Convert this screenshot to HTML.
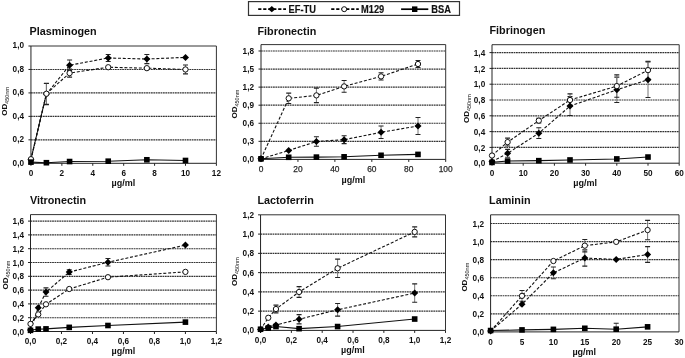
<!DOCTYPE html>
<html><head><meta charset="utf-8"><title>Binding curves</title><style>
html,body{margin:0;padding:0;background:#fff;}
body{width:685px;height:358px;overflow:hidden;}
svg{display:block;}
text{font-family:"Liberation Sans", sans-serif;fill:#111;}
.t{font-size:10.8px;font-weight:bold;}
.yl{font-size:8.2px;font-weight:bold;text-anchor:end;}
.xl{font-size:8.2px;font-weight:bold;text-anchor:middle;}
.xr{font-size:8.4px;font-weight:normal;text-anchor:middle;fill:#2a2a2a;stroke:#2a2a2a;stroke-width:0.25px;}
.od{font-size:8px;font-weight:bold;}
.sub{font-size:5.5px;font-weight:normal;}
.ug{font-size:9px;font-weight:bold;}
.lg{font-size:9.3px;font-weight:bold;stroke:#111;stroke-width:0.15px;}
.g{stroke:#333;stroke-width:1.15;stroke-dasharray:1.8,0.6;fill:none;}
.b{stroke:#333;stroke-width:1;fill:none;}
.a{stroke:#222;stroke-width:1;fill:none;}
.e{stroke:#777;stroke-width:1;fill:none;}
.ec{stroke:#222;stroke-width:1.1;fill:none;}
.d{stroke:#111;stroke-width:1.1;stroke-dasharray:3,1.8;fill:none;}
.s{stroke:#111;stroke-width:1.1;fill:none;}
.dm{fill:#000;}
.ci{fill:#fff;stroke:#111;stroke-width:1;}
.sq{fill:#000;}
</style></head>
<body><svg width="685" height="358" viewBox="0 0 685 358">
<g>
<rect width="685" height="358" fill="#fff"/>
<g>
<text x="29.5" y="34.6" class="t">Plasminogen</text>
<line x1="30.95" y1="139.84" x2="216.4" y2="139.84" class="g"/>
<line x1="30.95" y1="116.38" x2="216.4" y2="116.38" class="g"/>
<line x1="30.95" y1="92.92" x2="216.4" y2="92.92" class="g"/>
<line x1="30.95" y1="69.46" x2="216.4" y2="69.46" class="g"/>
<polyline points="30.95,46 216.4,46 216.4,163.3" class="b"/>
<line x1="28.45" y1="163.3" x2="30.95" y2="163.3" class="a"/>
<text x="24" y="165.7" class="yl">0,0</text>
<line x1="28.45" y1="139.84" x2="30.95" y2="139.84" class="a"/>
<text x="24" y="142.24" class="yl">0,2</text>
<line x1="28.45" y1="116.38" x2="30.95" y2="116.38" class="a"/>
<text x="24" y="118.78" class="yl">0,4</text>
<line x1="28.45" y1="92.92" x2="30.95" y2="92.92" class="a"/>
<text x="24" y="95.32" class="yl">0,6</text>
<line x1="28.45" y1="69.46" x2="30.95" y2="69.46" class="a"/>
<text x="24" y="71.86" class="yl">0,8</text>
<line x1="28.45" y1="46" x2="30.95" y2="46" class="a"/>
<text x="24" y="48.4" class="yl">1,0</text>
<line x1="30.95" y1="163.3" x2="30.95" y2="165.8" class="a"/>
<text x="30.95" y="175.8" class="xl">0</text>
<line x1="61.86" y1="163.3" x2="61.86" y2="165.8" class="a"/>
<text x="61.86" y="175.8" class="xl">2</text>
<line x1="92.77" y1="163.3" x2="92.77" y2="165.8" class="a"/>
<text x="92.77" y="175.8" class="xl">4</text>
<line x1="123.68" y1="163.3" x2="123.68" y2="165.8" class="a"/>
<text x="123.68" y="175.8" class="xl">6</text>
<line x1="154.58" y1="163.3" x2="154.58" y2="165.8" class="a"/>
<text x="154.58" y="175.8" class="xl">8</text>
<line x1="185.49" y1="163.3" x2="185.49" y2="165.8" class="a"/>
<text x="185.49" y="175.8" class="xl">10</text>
<line x1="216.4" y1="163.3" x2="216.4" y2="165.8" class="a"/>
<text x="216.4" y="175.8" class="xl">12</text>
<line x1="30.95" y1="46" x2="30.95" y2="163.3" class="a"/>
<line x1="30.95" y1="163.3" x2="216.4" y2="163.3" class="a"/>
<text transform="translate(7,115.8) rotate(-90)" class="od">OD<tspan class="sub" dy="1.8">450nm</tspan></text>
<text x="111.6" y="186.3" class="ug">&#181;g/ml</text>
<clipPath id="c0"><rect x="20.95" y="26" width="205.45" height="137.3"/></clipPath>
<g clip-path="url(#c0)">
<path d="M46.4 83.54V104.65" class="e"/>
<path d="M43.9 83.54h5M43.9 104.65h5" class="ec"/>
<path d="M69.59 59.96V70.52" class="e"/>
<path d="M67.09 59.96h5M67.09 70.52h5" class="ec"/>
<path d="M108.22 54.45V61.48" class="e"/>
<path d="M105.72 54.45h5M105.72 61.48h5" class="ec"/>
<path d="M146.86 54.45V63.6" class="e"/>
<path d="M144.36 54.45h5M144.36 63.6h5" class="ec"/>
<path d="M46.4 83.18V104.3" class="e"/>
<path d="M43.9 83.18h5M43.9 104.3h5" class="ec"/>
<path d="M69.59 69.11V77.08" class="e"/>
<path d="M67.09 69.11h5M67.09 77.08h5" class="ec"/>
<path d="M185.49 65V73.92" class="e"/>
<path d="M182.99 65h5M182.99 73.92h5" class="ec"/>
</g>
<polyline points="30.95,159.78 46.4,94.09 69.59,65.24 108.22,57.96 146.86,59.02 185.49,57.38" class="d"/>
<polyline points="30.95,159.19 46.4,93.74 69.59,73.1 108.22,67.23 146.86,68.17 185.49,69.46" class="d"/>
<polyline points="30.95,162.13 46.4,162.71 69.59,161.54 108.22,161.19 146.86,159.78 185.49,160.48" class="s"/>
<line x1="30.95" y1="159.19" x2="46.4" y2="93.74" style="stroke:#111;stroke-width:1px;fill:none"/>
<path d="M30.95 156.28l3.5 3.5l-3.5 3.5l-3.5 -3.5z" class="dm"/>
<path d="M46.4 90.59l3.5 3.5l-3.5 3.5l-3.5 -3.5z" class="dm"/>
<path d="M69.59 61.74l3.5 3.5l-3.5 3.5l-3.5 -3.5z" class="dm"/>
<path d="M108.22 54.46l3.5 3.5l-3.5 3.5l-3.5 -3.5z" class="dm"/>
<path d="M146.86 55.52l3.5 3.5l-3.5 3.5l-3.5 -3.5z" class="dm"/>
<path d="M185.49 53.88l3.5 3.5l-3.5 3.5l-3.5 -3.5z" class="dm"/>
<circle cx="30.95" cy="159.19" r="2.65" class="ci"/>
<circle cx="46.4" cy="93.74" r="2.65" class="ci"/>
<circle cx="69.59" cy="73.1" r="2.65" class="ci"/>
<circle cx="108.22" cy="67.23" r="2.65" class="ci"/>
<circle cx="146.86" cy="68.17" r="2.65" class="ci"/>
<circle cx="185.49" cy="69.46" r="2.65" class="ci"/>
<rect x="28.15" y="159.33" width="5.6" height="5.6" class="sq"/>
<rect x="43.6" y="159.91" width="5.6" height="5.6" class="sq"/>
<rect x="66.79" y="158.74" width="5.6" height="5.6" class="sq"/>
<rect x="105.42" y="158.39" width="5.6" height="5.6" class="sq"/>
<rect x="144.06" y="156.98" width="5.6" height="5.6" class="sq"/>
<rect x="182.69" y="157.68" width="5.6" height="5.6" class="sq"/>
</g>
<g>
<text x="257.5" y="34.5" class="t">Fibronectin</text>
<line x1="261" y1="141.33" x2="445.7" y2="141.33" class="g"/>
<line x1="261" y1="123.26" x2="445.7" y2="123.26" class="g"/>
<line x1="261" y1="105.19" x2="445.7" y2="105.19" class="g"/>
<line x1="261" y1="87.12" x2="445.7" y2="87.12" class="g"/>
<line x1="261" y1="69.06" x2="445.7" y2="69.06" class="g"/>
<line x1="261" y1="50.99" x2="445.7" y2="50.99" class="g"/>
<polyline points="261,44.6 445.7,44.6 445.7,159.4" class="b"/>
<line x1="258.5" y1="159.4" x2="261" y2="159.4" class="a"/>
<text x="254" y="162.3" class="yl">0,0</text>
<line x1="258.5" y1="141.33" x2="261" y2="141.33" class="a"/>
<text x="254" y="144.23" class="yl">0,3</text>
<line x1="258.5" y1="123.26" x2="261" y2="123.26" class="a"/>
<text x="254" y="126.16" class="yl">0,6</text>
<line x1="258.5" y1="105.19" x2="261" y2="105.19" class="a"/>
<text x="254" y="108.09" class="yl">0,9</text>
<line x1="258.5" y1="87.12" x2="261" y2="87.12" class="a"/>
<text x="254" y="90.02" class="yl">1,2</text>
<line x1="258.5" y1="69.06" x2="261" y2="69.06" class="a"/>
<text x="254" y="71.96" class="yl">1,5</text>
<line x1="258.5" y1="50.99" x2="261" y2="50.99" class="a"/>
<text x="254" y="53.89" class="yl">1,8</text>
<line x1="261" y1="159.4" x2="261" y2="161.9" class="a"/>
<text x="261" y="172" class="xr">0</text>
<line x1="297.94" y1="159.4" x2="297.94" y2="161.9" class="a"/>
<text x="297.94" y="172" class="xr">20</text>
<line x1="334.88" y1="159.4" x2="334.88" y2="161.9" class="a"/>
<text x="334.88" y="172" class="xr">40</text>
<line x1="371.82" y1="159.4" x2="371.82" y2="161.9" class="a"/>
<text x="371.82" y="172" class="xr">60</text>
<line x1="408.76" y1="159.4" x2="408.76" y2="161.9" class="a"/>
<text x="408.76" y="172" class="xr">80</text>
<line x1="445.7" y1="159.4" x2="445.7" y2="161.9" class="a"/>
<text x="445.7" y="172" class="xr">100</text>
<line x1="261" y1="44.6" x2="261" y2="159.4" class="a"/>
<line x1="261" y1="159.4" x2="445.7" y2="159.4" class="a"/>
<text transform="translate(237.3,118.5) rotate(-90)" class="od">OD<tspan class="sub" dy="1.8">450nm</tspan></text>
<text x="341.6" y="182.6" class="ug">&#181;g/ml</text>
<clipPath id="c1"><rect x="251" y="24.6" width="204.7" height="134.8"/></clipPath>
<g clip-path="url(#c1)">
<path d="M316.41 136.81V146.21" class="e"/>
<path d="M313.91 136.81h5M313.91 146.21h5" class="ec"/>
<path d="M344.12 135.79V143.62" class="e"/>
<path d="M341.62 135.79h5M341.62 143.62h5" class="ec"/>
<path d="M381.06 126.03V138.56" class="e"/>
<path d="M378.56 126.03h5M378.56 138.56h5" class="ec"/>
<path d="M418 117.48V134.46" class="e"/>
<path d="M415.5 117.48h5M415.5 134.46h5" class="ec"/>
<path d="M288.7 93.15V103.51" class="e"/>
<path d="M286.2 93.15h5M286.2 103.51h5" class="ec"/>
<path d="M316.41 88.09V102.66" class="e"/>
<path d="M313.91 88.09h5M313.91 102.66h5" class="ec"/>
<path d="M344.12 80.5V92.3" class="e"/>
<path d="M341.62 80.5h5M341.62 92.3h5" class="ec"/>
<path d="M381.06 72.79V80.02" class="e"/>
<path d="M378.56 72.79h5M378.56 80.02h5" class="ec"/>
<path d="M418 60.5V67.49" class="e"/>
<path d="M415.5 60.5h5M415.5 67.49h5" class="ec"/>
</g>
<polyline points="261,158.8 288.7,150.49 316.41,141.51 344.12,139.7 381.06,132.3 418,125.97" class="d"/>
<polyline points="261,158.8 288.7,98.33 316.41,95.38 344.12,86.4 381.06,76.4 418,64" class="d"/>
<polyline points="261,158.8 288.7,157.29 316.41,157.11 344.12,156.81 381.06,155.3 418,154.4" class="s"/>
<path d="M261 155.3l3.5 3.5l-3.5 3.5l-3.5 -3.5z" class="dm"/>
<path d="M288.7 146.99l3.5 3.5l-3.5 3.5l-3.5 -3.5z" class="dm"/>
<path d="M316.41 138.01l3.5 3.5l-3.5 3.5l-3.5 -3.5z" class="dm"/>
<path d="M344.12 136.2l3.5 3.5l-3.5 3.5l-3.5 -3.5z" class="dm"/>
<path d="M381.06 128.8l3.5 3.5l-3.5 3.5l-3.5 -3.5z" class="dm"/>
<path d="M418 122.47l3.5 3.5l-3.5 3.5l-3.5 -3.5z" class="dm"/>
<circle cx="261" cy="158.8" r="2.65" class="ci"/>
<circle cx="288.7" cy="98.33" r="2.65" class="ci"/>
<circle cx="316.41" cy="95.38" r="2.65" class="ci"/>
<circle cx="344.12" cy="86.4" r="2.65" class="ci"/>
<circle cx="381.06" cy="76.4" r="2.65" class="ci"/>
<circle cx="418" cy="64" r="2.65" class="ci"/>
<rect x="258.2" y="156" width="5.6" height="5.6" class="sq"/>
<rect x="285.9" y="154.49" width="5.6" height="5.6" class="sq"/>
<rect x="313.61" y="154.31" width="5.6" height="5.6" class="sq"/>
<rect x="341.31" y="154.01" width="5.6" height="5.6" class="sq"/>
<rect x="378.25" y="152.5" width="5.6" height="5.6" class="sq"/>
<rect x="415.19" y="151.6" width="5.6" height="5.6" class="sq"/>
</g>
<g>
<text x="489.5" y="34.2" class="t">Fibrinogen</text>
<line x1="492" y1="147.4" x2="679.2" y2="147.4" class="g"/>
<line x1="492" y1="131.6" x2="679.2" y2="131.6" class="g"/>
<line x1="492" y1="115.8" x2="679.2" y2="115.8" class="g"/>
<line x1="492" y1="100" x2="679.2" y2="100" class="g"/>
<line x1="492" y1="84.2" x2="679.2" y2="84.2" class="g"/>
<line x1="492" y1="68.4" x2="679.2" y2="68.4" class="g"/>
<line x1="492" y1="52.6" x2="679.2" y2="52.6" class="g"/>
<polyline points="492,44.7 679.2,44.7 679.2,163.2" class="b"/>
<line x1="489.5" y1="163.2" x2="492" y2="163.2" class="a"/>
<text x="485.2" y="166.4" class="yl">0,0</text>
<line x1="489.5" y1="147.4" x2="492" y2="147.4" class="a"/>
<text x="485.2" y="150.6" class="yl">0,2</text>
<line x1="489.5" y1="131.6" x2="492" y2="131.6" class="a"/>
<text x="485.2" y="134.8" class="yl">0,4</text>
<line x1="489.5" y1="115.8" x2="492" y2="115.8" class="a"/>
<text x="485.2" y="119" class="yl">0,6</text>
<line x1="489.5" y1="100" x2="492" y2="100" class="a"/>
<text x="485.2" y="103.2" class="yl">0,8</text>
<line x1="489.5" y1="84.2" x2="492" y2="84.2" class="a"/>
<text x="485.2" y="87.4" class="yl">1,0</text>
<line x1="489.5" y1="68.4" x2="492" y2="68.4" class="a"/>
<text x="485.2" y="71.6" class="yl">1,2</text>
<line x1="489.5" y1="52.6" x2="492" y2="52.6" class="a"/>
<text x="485.2" y="55.8" class="yl">1,4</text>
<line x1="492" y1="163.2" x2="492" y2="165.7" class="a"/>
<text x="492" y="176.3" class="xl">0</text>
<line x1="523.2" y1="163.2" x2="523.2" y2="165.7" class="a"/>
<text x="523.2" y="176.3" class="xl">10</text>
<line x1="554.4" y1="163.2" x2="554.4" y2="165.7" class="a"/>
<text x="554.4" y="176.3" class="xl">20</text>
<line x1="585.6" y1="163.2" x2="585.6" y2="165.7" class="a"/>
<text x="585.6" y="176.3" class="xl">30</text>
<line x1="616.8" y1="163.2" x2="616.8" y2="165.7" class="a"/>
<text x="616.8" y="176.3" class="xl">40</text>
<line x1="648" y1="163.2" x2="648" y2="165.7" class="a"/>
<text x="648" y="176.3" class="xl">50</text>
<line x1="679.2" y1="163.2" x2="679.2" y2="165.7" class="a"/>
<text x="679.2" y="176.3" class="xl">60</text>
<line x1="492" y1="44.7" x2="492" y2="163.2" class="a"/>
<line x1="492" y1="163.2" x2="679.2" y2="163.2" class="a"/>
<text transform="translate(469.1,123) rotate(-90)" class="od">OD<tspan class="sub" dy="1.8">450nm</tspan></text>
<text x="573.3" y="186.4" class="ug">&#181;g/ml</text>
<clipPath id="c2"><rect x="482" y="24.7" width="207.2" height="138.5"/></clipPath>
<g clip-path="url(#c2)">
<path d="M507.6 149.38V157.27" class="e"/>
<path d="M505.1 149.38h5M505.1 157.27h5" class="ec"/>
<path d="M538.8 127.81V138.55" class="e"/>
<path d="M536.3 127.81h5M536.3 138.55h5" class="ec"/>
<path d="M570 96.6V115.56" class="e"/>
<path d="M567.5 96.6h5M567.5 115.56h5" class="ec"/>
<path d="M616.8 77.17V102.45" class="e"/>
<path d="M614.3 77.17h5M614.3 102.45h5" class="ec"/>
<path d="M648 61.92V97.47" class="e"/>
<path d="M645.5 61.92h5M645.5 97.47h5" class="ec"/>
<path d="M507.6 138.16V146.06" class="e"/>
<path d="M505.1 138.16h5M505.1 146.06h5" class="ec"/>
<path d="M538.8 118.25V122.99" class="e"/>
<path d="M536.3 118.25h5M536.3 122.99h5" class="ec"/>
<path d="M570 93.84V106.16" class="e"/>
<path d="M567.5 93.84h5M567.5 106.16h5" class="ec"/>
<path d="M616.8 74.88V97.31" class="e"/>
<path d="M614.3 74.88h5M614.3 97.31h5" class="ec"/>
<path d="M648 61.21V79.06" class="e"/>
<path d="M645.5 61.21h5M645.5 79.06h5" class="ec"/>
</g>
<polyline points="492,161.62 507.6,153.32 538.8,133.18 570,106.08 616.8,89.81 648,79.7" class="d"/>
<polyline points="492,155.54 507.6,142.11 538.8,120.62 570,100 616.8,86.1 648,70.14" class="d"/>
<polyline points="492,162.41 507.6,161.07 538.8,160.67 570,159.96 616.8,158.93 648,157.04" class="s"/>
<path d="M492 158.12l3.5 3.5l-3.5 3.5l-3.5 -3.5z" class="dm"/>
<path d="M507.6 149.82l3.5 3.5l-3.5 3.5l-3.5 -3.5z" class="dm"/>
<path d="M538.8 129.68l3.5 3.5l-3.5 3.5l-3.5 -3.5z" class="dm"/>
<path d="M570 102.58l3.5 3.5l-3.5 3.5l-3.5 -3.5z" class="dm"/>
<path d="M616.8 86.31l3.5 3.5l-3.5 3.5l-3.5 -3.5z" class="dm"/>
<path d="M648 76.2l3.5 3.5l-3.5 3.5l-3.5 -3.5z" class="dm"/>
<circle cx="492" cy="155.54" r="2.65" class="ci"/>
<circle cx="507.6" cy="142.11" r="2.65" class="ci"/>
<circle cx="538.8" cy="120.62" r="2.65" class="ci"/>
<circle cx="570" cy="100" r="2.65" class="ci"/>
<circle cx="616.8" cy="86.1" r="2.65" class="ci"/>
<circle cx="648" cy="70.14" r="2.65" class="ci"/>
<rect x="489.2" y="159.61" width="5.6" height="5.6" class="sq"/>
<rect x="504.8" y="158.27" width="5.6" height="5.6" class="sq"/>
<rect x="536" y="157.87" width="5.6" height="5.6" class="sq"/>
<rect x="567.2" y="157.16" width="5.6" height="5.6" class="sq"/>
<rect x="614" y="156.13" width="5.6" height="5.6" class="sq"/>
<rect x="645.2" y="154.24" width="5.6" height="5.6" class="sq"/>
</g>
<g>
<text x="29.9" y="203.9" class="t">Vitronectin</text>
<line x1="30.5" y1="317.7" x2="216.4" y2="317.7" class="g"/>
<line x1="30.5" y1="303.9" x2="216.4" y2="303.9" class="g"/>
<line x1="30.5" y1="290.1" x2="216.4" y2="290.1" class="g"/>
<line x1="30.5" y1="276.3" x2="216.4" y2="276.3" class="g"/>
<line x1="30.5" y1="262.5" x2="216.4" y2="262.5" class="g"/>
<line x1="30.5" y1="248.7" x2="216.4" y2="248.7" class="g"/>
<line x1="30.5" y1="234.9" x2="216.4" y2="234.9" class="g"/>
<line x1="30.5" y1="221.1" x2="216.4" y2="221.1" class="g"/>
<polyline points="30.5,214.6 216.4,214.6 216.4,331.5" class="b"/>
<line x1="28" y1="331.5" x2="30.5" y2="331.5" class="a"/>
<text x="24" y="334.6" class="yl">0,0</text>
<line x1="28" y1="317.7" x2="30.5" y2="317.7" class="a"/>
<text x="24" y="320.8" class="yl">0,2</text>
<line x1="28" y1="303.9" x2="30.5" y2="303.9" class="a"/>
<text x="24" y="307" class="yl">0,4</text>
<line x1="28" y1="290.1" x2="30.5" y2="290.1" class="a"/>
<text x="24" y="293.2" class="yl">0,6</text>
<line x1="28" y1="276.3" x2="30.5" y2="276.3" class="a"/>
<text x="24" y="279.4" class="yl">0,8</text>
<line x1="28" y1="262.5" x2="30.5" y2="262.5" class="a"/>
<text x="24" y="265.6" class="yl">1,0</text>
<line x1="28" y1="248.7" x2="30.5" y2="248.7" class="a"/>
<text x="24" y="251.8" class="yl">1,2</text>
<line x1="28" y1="234.9" x2="30.5" y2="234.9" class="a"/>
<text x="24" y="238" class="yl">1,4</text>
<line x1="28" y1="221.1" x2="30.5" y2="221.1" class="a"/>
<text x="24" y="224.2" class="yl">1,6</text>
<line x1="30.5" y1="331.5" x2="30.5" y2="334" class="a"/>
<text x="30.5" y="344.2" class="xl">0,0</text>
<line x1="61.48" y1="331.5" x2="61.48" y2="334" class="a"/>
<text x="61.48" y="344.2" class="xl">0,2</text>
<line x1="92.47" y1="331.5" x2="92.47" y2="334" class="a"/>
<text x="92.47" y="344.2" class="xl">0,4</text>
<line x1="123.45" y1="331.5" x2="123.45" y2="334" class="a"/>
<text x="123.45" y="344.2" class="xl">0,6</text>
<line x1="154.43" y1="331.5" x2="154.43" y2="334" class="a"/>
<text x="154.43" y="344.2" class="xl">0,8</text>
<line x1="185.42" y1="331.5" x2="185.42" y2="334" class="a"/>
<text x="185.42" y="344.2" class="xl">1,0</text>
<line x1="216.4" y1="331.5" x2="216.4" y2="334" class="a"/>
<text x="216.4" y="344.2" class="xl">1,2</text>
<line x1="30.5" y1="214.6" x2="30.5" y2="331.5" class="a"/>
<line x1="30.5" y1="331.5" x2="216.4" y2="331.5" class="a"/>
<text transform="translate(7.9,289.5) rotate(-90)" class="od">OD<tspan class="sub" dy="1.8">450nm</tspan></text>
<text x="111.6" y="354.2" class="ug">&#181;g/ml</text>
<clipPath id="c3"><rect x="20.5" y="194.6" width="205.9" height="136.9"/></clipPath>
<g clip-path="url(#c3)">
<path d="M45.99 287.89V296.31" class="e"/>
<path d="M43.49 287.89h5M43.49 296.31h5" class="ec"/>
<path d="M69.23 269.68V274.51" class="e"/>
<path d="M66.73 269.68h5M66.73 274.51h5" class="ec"/>
<path d="M107.96 258.57V266.02" class="e"/>
<path d="M105.46 258.57h5M105.46 266.02h5" class="ec"/>
</g>
<polyline points="30.5,330.12 38.25,307.69 45.99,292.1 69.23,272.09 107.96,262.29 185.42,245.11" class="d"/>
<polyline points="30.5,323.91 38.25,314.39 45.99,304.31 69.23,289 107.96,277.2 185.42,271.88" class="d"/>
<polyline points="30.5,330.33 38.25,329.08 45.99,328.88 69.23,327.36 107.96,325.5 185.42,322.12" class="s"/>
<line x1="30.5" y1="323.91" x2="38.25" y2="314.39" style="stroke:#111;stroke-width:1px;fill:none"/>
<path d="M30.5 326.62l3.5 3.5l-3.5 3.5l-3.5 -3.5z" class="dm"/>
<path d="M38.25 304.19l3.5 3.5l-3.5 3.5l-3.5 -3.5z" class="dm"/>
<path d="M45.99 288.6l3.5 3.5l-3.5 3.5l-3.5 -3.5z" class="dm"/>
<path d="M69.23 268.59l3.5 3.5l-3.5 3.5l-3.5 -3.5z" class="dm"/>
<path d="M107.96 258.79l3.5 3.5l-3.5 3.5l-3.5 -3.5z" class="dm"/>
<path d="M185.42 241.61l3.5 3.5l-3.5 3.5l-3.5 -3.5z" class="dm"/>
<circle cx="30.5" cy="323.91" r="2.65" class="ci"/>
<circle cx="38.25" cy="314.39" r="2.65" class="ci"/>
<circle cx="45.99" cy="304.31" r="2.65" class="ci"/>
<circle cx="69.23" cy="289" r="2.65" class="ci"/>
<circle cx="107.96" cy="277.2" r="2.65" class="ci"/>
<circle cx="185.42" cy="271.88" r="2.65" class="ci"/>
<rect x="27.7" y="327.53" width="5.6" height="5.6" class="sq"/>
<rect x="35.45" y="326.28" width="5.6" height="5.6" class="sq"/>
<rect x="43.19" y="326.08" width="5.6" height="5.6" class="sq"/>
<rect x="66.43" y="324.56" width="5.6" height="5.6" class="sq"/>
<rect x="105.16" y="322.7" width="5.6" height="5.6" class="sq"/>
<rect x="182.62" y="319.32" width="5.6" height="5.6" class="sq"/>
</g>
<g>
<text x="257.4" y="203.9" class="t">Lactoferrin</text>
<line x1="260.55" y1="311.14" x2="445.5" y2="311.14" class="g"/>
<line x1="260.55" y1="291.88" x2="445.5" y2="291.88" class="g"/>
<line x1="260.55" y1="272.62" x2="445.5" y2="272.62" class="g"/>
<line x1="260.55" y1="253.36" x2="445.5" y2="253.36" class="g"/>
<line x1="260.55" y1="234.1" x2="445.5" y2="234.1" class="g"/>
<polyline points="260.55,214.8 445.5,214.8 445.5,330.4" class="b"/>
<line x1="258.05" y1="330.4" x2="260.55" y2="330.4" class="a"/>
<text x="254" y="333.4" class="yl">0,0</text>
<line x1="258.05" y1="311.14" x2="260.55" y2="311.14" class="a"/>
<text x="254" y="314.14" class="yl">0,2</text>
<line x1="258.05" y1="291.88" x2="260.55" y2="291.88" class="a"/>
<text x="254" y="294.88" class="yl">0,4</text>
<line x1="258.05" y1="272.62" x2="260.55" y2="272.62" class="a"/>
<text x="254" y="275.62" class="yl">0,6</text>
<line x1="258.05" y1="253.36" x2="260.55" y2="253.36" class="a"/>
<text x="254" y="256.36" class="yl">0,8</text>
<line x1="258.05" y1="234.1" x2="260.55" y2="234.1" class="a"/>
<text x="254" y="237.1" class="yl">1,0</text>
<line x1="258.05" y1="214.84" x2="260.55" y2="214.84" class="a"/>
<text x="254" y="217.84" class="yl">1,2</text>
<line x1="260.55" y1="330.4" x2="260.55" y2="332.9" class="a"/>
<text x="260.55" y="343.2" class="xl">0,0</text>
<line x1="291.38" y1="330.4" x2="291.38" y2="332.9" class="a"/>
<text x="291.38" y="343.2" class="xl">0,2</text>
<line x1="322.2" y1="330.4" x2="322.2" y2="332.9" class="a"/>
<text x="322.2" y="343.2" class="xl">0,4</text>
<line x1="353.03" y1="330.4" x2="353.03" y2="332.9" class="a"/>
<text x="353.03" y="343.2" class="xl">0,6</text>
<line x1="383.85" y1="330.4" x2="383.85" y2="332.9" class="a"/>
<text x="383.85" y="343.2" class="xl">0,8</text>
<line x1="414.68" y1="330.4" x2="414.68" y2="332.9" class="a"/>
<text x="414.68" y="343.2" class="xl">1,0</text>
<line x1="445.5" y1="330.4" x2="445.5" y2="332.9" class="a"/>
<text x="445.5" y="343.2" class="xl">1,2</text>
<line x1="260.55" y1="214.8" x2="260.55" y2="330.4" class="a"/>
<line x1="260.55" y1="330.4" x2="445.5" y2="330.4" class="a"/>
<text transform="translate(237.1,286) rotate(-90)" class="od">OD<tspan class="sub" dy="1.8">450nm</tspan></text>
<text x="341" y="352.6" class="ug">&#181;g/ml</text>
<clipPath id="c4"><rect x="250.55" y="194.8" width="204.95" height="135.6"/></clipPath>
<g clip-path="url(#c4)">
<path d="M299.08 314.61V323.85" class="e"/>
<path d="M296.58 314.61h5M296.58 323.85h5" class="ec"/>
<path d="M337.61 303.44V316.15" class="e"/>
<path d="M335.11 303.44h5M335.11 316.15h5" class="ec"/>
<path d="M414.68 283.89V302.18" class="e"/>
<path d="M412.18 283.89h5M412.18 302.18h5" class="ec"/>
<path d="M275.96 305.17V312.87" class="e"/>
<path d="M273.46 305.17h5M273.46 312.87h5" class="ec"/>
<path d="M299.08 286.58V297.37" class="e"/>
<path d="M296.58 286.58h5M296.58 297.37h5" class="ec"/>
<path d="M337.61 259.14V277.43" class="e"/>
<path d="M335.11 259.14h5M335.11 277.43h5" class="ec"/>
<path d="M414.68 226.88V236.89" class="e"/>
<path d="M412.18 226.88h5M412.18 236.89h5" class="ec"/>
</g>
<polyline points="260.55,329.44 268.26,327.03 275.96,324.91 299.08,319.23 337.61,309.79 414.68,293.04" class="d"/>
<polyline points="260.55,329.44 268.26,317.78 275.96,309.02 299.08,291.98 337.61,268.29 414.68,231.89" class="d"/>
<polyline points="260.55,329.24 268.26,328.09 275.96,326.55 299.08,328.67 337.61,326.55 414.68,319.04" class="s"/>
<path d="M260.55 325.94l3.5 3.5l-3.5 3.5l-3.5 -3.5z" class="dm"/>
<path d="M268.26 323.53l3.5 3.5l-3.5 3.5l-3.5 -3.5z" class="dm"/>
<path d="M275.96 321.41l3.5 3.5l-3.5 3.5l-3.5 -3.5z" class="dm"/>
<path d="M299.08 315.73l3.5 3.5l-3.5 3.5l-3.5 -3.5z" class="dm"/>
<path d="M337.61 306.29l3.5 3.5l-3.5 3.5l-3.5 -3.5z" class="dm"/>
<path d="M414.68 289.54l3.5 3.5l-3.5 3.5l-3.5 -3.5z" class="dm"/>
<circle cx="268.26" cy="317.78" r="2.65" class="ci"/>
<circle cx="275.96" cy="309.02" r="2.65" class="ci"/>
<circle cx="299.08" cy="291.98" r="2.65" class="ci"/>
<circle cx="337.61" cy="268.29" r="2.65" class="ci"/>
<circle cx="414.68" cy="231.89" r="2.65" class="ci"/>
<rect x="257.75" y="326.44" width="5.6" height="5.6" class="sq"/>
<rect x="265.46" y="325.29" width="5.6" height="5.6" class="sq"/>
<rect x="273.16" y="323.75" width="5.6" height="5.6" class="sq"/>
<rect x="296.28" y="325.87" width="5.6" height="5.6" class="sq"/>
<rect x="334.81" y="323.75" width="5.6" height="5.6" class="sq"/>
<rect x="411.88" y="316.24" width="5.6" height="5.6" class="sq"/>
</g>
<g>
<text x="489.1" y="203.9" class="t">Laminin</text>
<line x1="490.6" y1="313.84" x2="679" y2="313.84" class="g"/>
<line x1="490.6" y1="295.78" x2="679" y2="295.78" class="g"/>
<line x1="490.6" y1="277.72" x2="679" y2="277.72" class="g"/>
<line x1="490.6" y1="259.66" x2="679" y2="259.66" class="g"/>
<line x1="490.6" y1="241.6" x2="679" y2="241.6" class="g"/>
<line x1="490.6" y1="223.54" x2="679" y2="223.54" class="g"/>
<polyline points="490.6,214.8 679,214.8 679,331.9" class="b"/>
<text x="484" y="335.3" class="yl">0,0</text>
<text x="484" y="317.24" class="yl">0,2</text>
<text x="484" y="299.18" class="yl">0,4</text>
<text x="484" y="281.12" class="yl">0,6</text>
<text x="484" y="263.06" class="yl">0,8</text>
<text x="484" y="245" class="yl">1,0</text>
<text x="484" y="226.94" class="yl">1,2</text>
<text x="490.6" y="344.6" class="xl">0</text>
<text x="522" y="344.6" class="xl">5</text>
<text x="553.4" y="344.6" class="xl">10</text>
<text x="584.8" y="344.6" class="xl">15</text>
<text x="616.2" y="344.6" class="xl">20</text>
<text x="647.6" y="344.6" class="xl">25</text>
<text x="679" y="344.6" class="xl">30</text>
<line x1="490.6" y1="214.8" x2="490.6" y2="331.9" class="a"/>
<line x1="490.6" y1="331.9" x2="679" y2="331.9" class="a"/>
<text transform="translate(467.1,291.6) rotate(-90)" class="od">OD<tspan class="sub" dy="1.8">450nm</tspan></text>
<text x="572.4" y="354.7" class="ug">&#181;g/ml</text>
<clipPath id="c5"><rect x="480.6" y="194.8" width="208.4" height="137.1"/></clipPath>
<g clip-path="url(#c5)">
<path d="M553.4 266.97V278.71" class="e"/>
<path d="M550.9 266.97h5M550.9 278.71h5" class="ec"/>
<path d="M584.8 249.91V266.16" class="e"/>
<path d="M582.3 249.91h5M582.3 266.16h5" class="ec"/>
<path d="M647.6 246.66V262.37" class="e"/>
<path d="M645.1 246.66h5M645.1 262.37h5" class="ec"/>
<path d="M522 290.45V301.29" class="e"/>
<path d="M519.5 290.45h5M519.5 301.29h5" class="ec"/>
<path d="M584.8 239.43V251.89" class="e"/>
<path d="M582.3 239.43h5M582.3 251.89h5" class="ec"/>
<path d="M647.6 220.38V239.7" class="e"/>
<path d="M645.1 220.38h5M645.1 239.7h5" class="ec"/>
<path d="M616.2 323.23V335.15" class="e"/>
<path d="M613.7 323.23h5M613.7 335.15h5" class="ec"/>
</g>
<polyline points="490.6,331 522,304.27 553.4,272.84 584.8,258.03 616.2,259.39 647.6,254.51" class="d"/>
<polyline points="490.6,331 522,295.87 553.4,261.01 584.8,245.66 616.2,241.87 647.6,230.04" class="d"/>
<polyline points="490.6,330.55 522,329.91 553.4,329.37 584.8,328.29 616.2,329.19 647.6,326.84" class="s"/>
<path d="M490.6 327.5l3.5 3.5l-3.5 3.5l-3.5 -3.5z" class="dm"/>
<path d="M522 300.77l3.5 3.5l-3.5 3.5l-3.5 -3.5z" class="dm"/>
<path d="M553.4 269.34l3.5 3.5l-3.5 3.5l-3.5 -3.5z" class="dm"/>
<path d="M584.8 254.53l3.5 3.5l-3.5 3.5l-3.5 -3.5z" class="dm"/>
<path d="M616.2 255.89l3.5 3.5l-3.5 3.5l-3.5 -3.5z" class="dm"/>
<path d="M647.6 251.01l3.5 3.5l-3.5 3.5l-3.5 -3.5z" class="dm"/>
<circle cx="522" cy="295.87" r="2.65" class="ci"/>
<circle cx="553.4" cy="261.01" r="2.65" class="ci"/>
<circle cx="584.8" cy="245.66" r="2.65" class="ci"/>
<circle cx="616.2" cy="241.87" r="2.65" class="ci"/>
<circle cx="647.6" cy="230.04" r="2.65" class="ci"/>
<rect x="487.8" y="327.75" width="5.6" height="5.6" class="sq"/>
<rect x="519.2" y="327.11" width="5.6" height="5.6" class="sq"/>
<rect x="550.6" y="326.57" width="5.6" height="5.6" class="sq"/>
<rect x="582" y="325.49" width="5.6" height="5.6" class="sq"/>
<rect x="613.4" y="326.39" width="5.6" height="5.6" class="sq"/>
<rect x="644.8" y="324.04" width="5.6" height="5.6" class="sq"/>
</g>
<rect x="248.5" y="1.6" width="211" height="13.8" fill="#fff" stroke="#333" stroke-width="1.2"/>
<line x1="258.2" y1="9.2" x2="286" y2="9.2" style="stroke:#000;stroke-width:1.8px;stroke-dasharray:3.2,1.8;fill:none"/>
<path d="M271.8 6.1l3.5 3.1l-3.5 3.1l-3.5 -3.1z" class="dm"/>
<text transform="translate(288.6,12.6) scale(1,1.12)" class="lg">EF-TU</text>
<line x1="331.2" y1="9.2" x2="358.8" y2="9.2" style="stroke:#000;stroke-width:1.8px;stroke-dasharray:3.2,1.8;fill:none"/>
<circle cx="344.2" cy="9.2" r="2.5" class="ci"/>
<text transform="translate(361.0,12.6) scale(1,1.12)" class="lg">M129</text>
<line x1="401.1" y1="9.2" x2="428.3" y2="9.2" style="stroke:#000;stroke-width:1.7px;fill:none"/>
<rect x="412" y="6.4" width="5.4" height="5.6" class="sq"/>
<text transform="translate(431.3,12.6) scale(1,1.12)" class="lg">BSA</text>
</g>
</svg></body></html>
